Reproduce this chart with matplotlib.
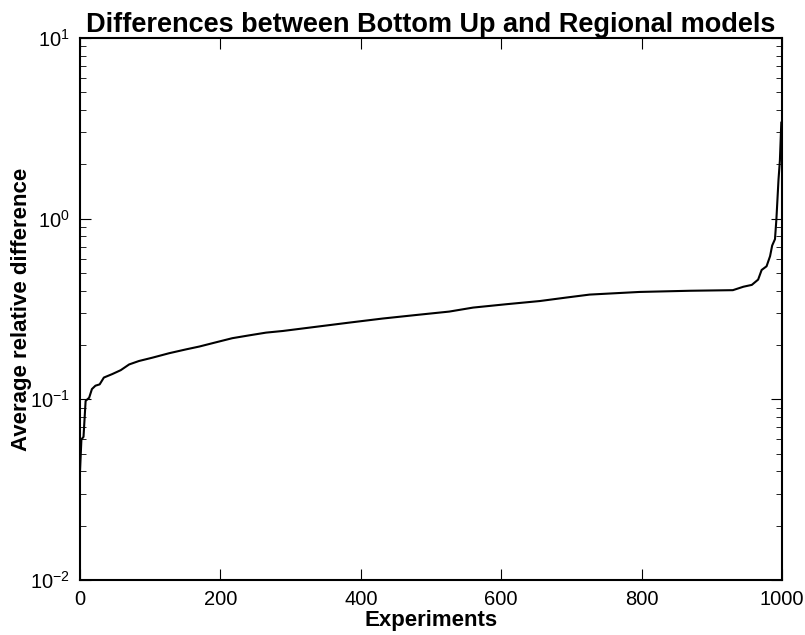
import matplotlib
matplotlib.use("Agg")
import matplotlib.pyplot as plt
from matplotlib.ticker import LogLocator

plt.rcParams['font.family'] = ['Liberation Sans', 'DejaVu Sans']
plt.rcParams['mathtext.fontset'] = 'custom'
plt.rcParams['mathtext.rm'] = 'Liberation Sans'
plt.rcParams['axes.unicode_minus'] = False

# sorted average relative differences
experiments = [0, 2, 5, 8, 13, 17, 22, 28, 34, 46, 58, 70, 84, 103, 127, 151,
               170, 194, 217, 241, 265, 289, 336, 384, 431, 479, 526, 560, 607,
               655, 693, 726, 797, 869, 930, 945, 957, 966, 971, 978, 983, 986,
               990, 992, 995, 997, 999]
differences = [0.040, 0.060, 0.062, 0.098, 0.102, 0.114, 0.119, 0.121, 0.132,
               0.138, 0.145, 0.156, 0.163, 0.170, 0.180, 0.189, 0.196, 0.207,
               0.218, 0.226, 0.234, 0.239, 0.252, 0.266, 0.280, 0.293, 0.306,
               0.322, 0.336, 0.350, 0.366, 0.380, 0.393, 0.399, 0.402, 0.42,
               0.43, 0.46, 0.52, 0.545, 0.62, 0.71, 0.77, 0.99, 1.64, 2.1, 3.4]

fig = plt.figure(figsize=(8.05, 6.35), dpi=100)
ax = fig.add_axes([80 / 805, 55 / 635, 702 / 805, 542 / 635])

ax.plot(experiments, differences, color="black", linewidth=1.5)

ax.set_yscale("log")
ax.set_xlim(0, 1000)
ax.set_ylim(1e-2, 1e1)
ax.set_xticks([0, 200, 400, 600, 800, 1000])
ax.yaxis.set_minor_locator(LogLocator(base=10, subs=range(2, 10)))

ax.tick_params(which="both", direction="in", top=True, right=True,
               labelsize=14.5, pad=7)
ax.tick_params(which="major", length=8)
ax.tick_params(which="minor", length=4)
for side in ax.spines.values():
    side.set_linewidth(1.5)

ax.set_title("Differences between Bottom Up and Regional models",
             fontsize=19.5, fontweight="bold", pad=4)
ax.set_xlabel("Experiments", fontsize=16, fontweight="bold", labelpad=1)
ax.set_ylabel("Average relative difference", fontsize=16, fontweight="bold",
              labelpad=-1)

fig.savefig("out.png", dpi=100, facecolor="white")
